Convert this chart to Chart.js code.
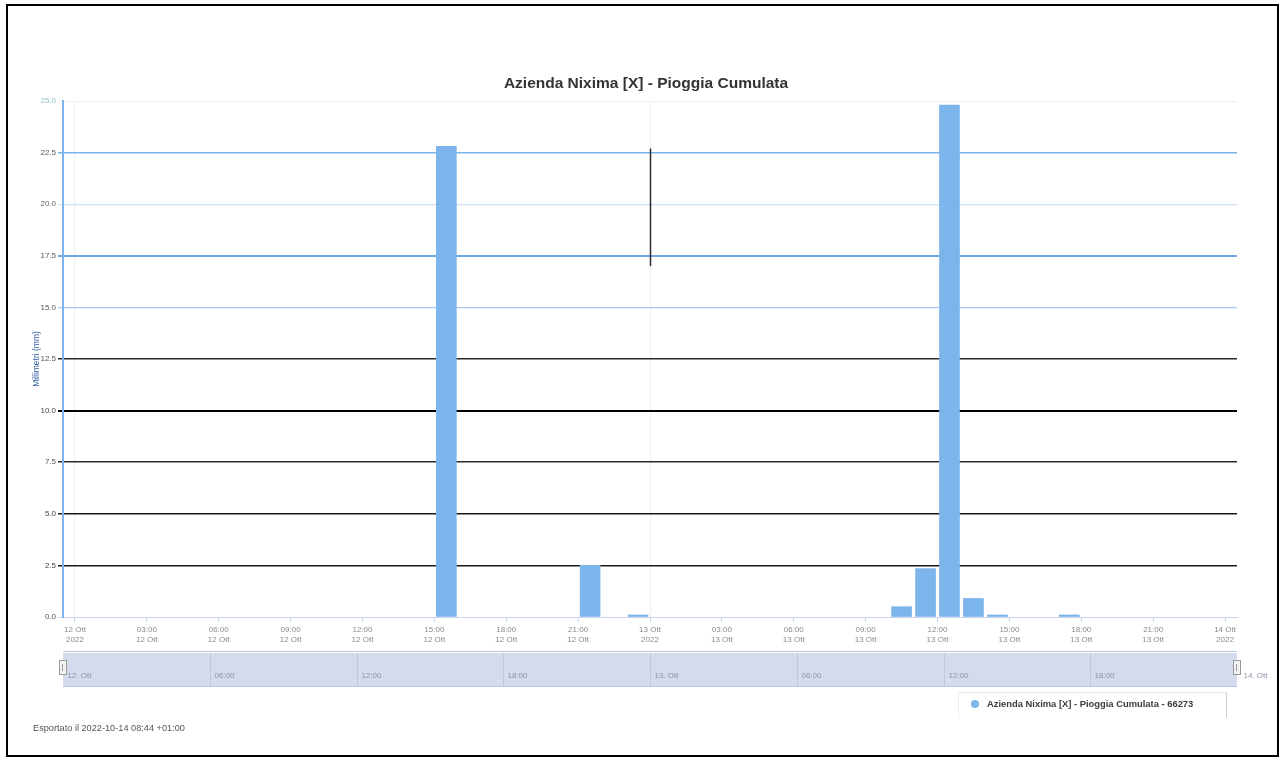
<!DOCTYPE html>
<html>
<head>
<meta charset="utf-8">
<script src="https://cdn.jsdelivr.net/npm/chart.js@4/dist/chart.umd.min.js"></script>
<style>
  html, body { margin: 0; padding: 0; background: #fff; }
  body { width: 1284px; height: 760px; position: relative; overflow: hidden; font-family: "Liberation Sans", Arial, sans-serif; }
  #frame { position: absolute; left: 6px; top: 4px; width: 1269px; height: 749px; border: 2px solid #000; }
  #wrap { position: absolute; left: 0; top: 0; width: 1284px; height: 760px; }
  #title { position: absolute; left: 446px; width: 400px; top: 74px; text-align: center; font-size: 15.5px; font-weight: bold; color: #333; white-space: nowrap; line-height: 18px; }
  #legend { position: absolute; left: 958px; top: 692px; width: 269px; height: 26px; border-top: 1px solid #e3e3e3; border-right: 1px solid #d0d0d0; border-left: 1px solid #eeeeee; box-sizing: border-box; }
  #legend .dot { position: absolute; left: 12px; top: 7px; width: 8px; height: 8px; border-radius: 50%; background: #7cb5ec; }
  #legend .txt { position: absolute; left: 28px; top: 5px; font-size: 9.4px; font-weight: bold; color: #3a3a3a; white-space: nowrap; line-height: 12px; }
  #footer { position: absolute; left: 33px; top: 722px; font-size: 9.2px; color: #555; white-space: nowrap; line-height: 12px; }
</style>
</head>
<body>
<div id="frame"></div>
<div id="wrap"><canvas id="c" width="1284" height="760"></canvas></div>
<div id="title"></div>
<div id="legend"><div class="dot"></div><div class="txt" id="legendText"></div></div>
<div id="footer"></div>
<script>
// ---- data ----
const chartTitle = 'Azienda Nixima [X] - Pioggia Cumulata';
const seriesName = 'Azienda Nixima [X] - Pioggia Cumulata - 66273';
const yAxisTitle = 'Millimetri (mm)';
const exportNote = 'Esportato il 2022-10-14 08:44 +01:00';
// hour offsets (from 12 Ott 2022 00:00) at which each hourly bar starts
const hourStarts = [15, 21, 23, 34, 35, 36, 37, 38, 41];
// cumulated rain (mm) for each of those hours
const rainMm = [22.8, 2.5, 0.1, 0.5, 2.35, 24.8, 0.9, 0.1, 0.1];
const xTickHours = [0, 3, 6, 9, 12, 15, 18, 21, 24, 27, 30, 33, 36, 39, 42, 45, 48];
const xTickTop = ['12 Ott', '03:00', '06:00', '09:00', '12:00', '15:00', '18:00', '21:00',
                  '13 Ott', '03:00', '06:00', '09:00', '12:00', '15:00', '18:00', '21:00', '14 Ott'];
const xTickBottom = ['2022', '12 Ott', '12 Ott', '12 Ott', '12 Ott', '12 Ott', '12 Ott', '12 Ott',
                     '2022', '13 Ott', '13 Ott', '13 Ott', '13 Ott', '13 Ott', '13 Ott', '13 Ott', '2022'];
const yTickValues = [0, 2.5, 5, 7.5, 10, 12.5, 15, 17.5, 20, 22.5, 25];
const navHours = [0, 6, 12, 18, 24, 30, 36, 42, 48];
const navLabels = ['12. Ott', '06:00', '12:00', '18:00', '13. Ott', '06:00', '12:00', '18:00', '14. Ott'];
// dark vertical stroke seen in the picture at 13 Ott (hour 24), from ~22.7 down to ~17.0 mm
const strokeHour = 24;
const strokeRange = [22.7, 17.0];

// ---- styles (indexed like yTickValues) ----
const yGridColors = ['#ccd6eb', '#1a1a1a', '#1a1a1a', '#2a2a2a', '#000000', '#2a2a2a', '#a9c9f0', '#6fa8e6', '#cfe0f6', '#7cb2ea', '#eeeeee'];
const yGridWidths = [1, 1.5, 1.5, 1.5, 2, 1.5, 1.2, 2, 1.2, 1.5, 1];
const yTickColors = ['#555', '#444', '#444', '#555', '#444', '#555', '#555', '#555', '#666', '#555', '#8fc0cf'];

document.getElementById('title').textContent = chartTitle;
document.getElementById('legendText').textContent = seriesName;
document.getElementById('footer').textContent = exportNote;

const barData = hourStarts.map((h, i) => ({ x: h + 0.5, y: rainMm[i] }));

const navigatorPlugin = {
  id: 'navigator',
  afterDatasetsDraw(chart) {
    const ctx = chart.ctx;
    const xs = chart.scales.x, ys = chart.scales.y;
    const x = Math.round(xs.getPixelForValue(strokeHour)) + 0.5;
    ctx.save();
    ctx.strokeStyle = '#2b2b2b';
    ctx.lineWidth = 1.5;
    ctx.beginPath();
    ctx.moveTo(x, ys.getPixelForValue(strokeRange[0]));
    ctx.lineTo(x, ys.getPixelForValue(strokeRange[1]));
    ctx.stroke();
    ctx.restore();
  },
  afterDraw(chart) {
    const ctx = chart.ctx;
    const a = chart.chartArea;
    const top = a.bottom + 36, h = 33;
    const L = a.left, W = a.right - a.left;
    ctx.save();
    ctx.fillStyle = '#d3dbec';
    ctx.fillRect(L, top, W, h);
    ctx.strokeStyle = '#b9c7e2';
    ctx.lineWidth = 1;
    ctx.beginPath();
    ctx.moveTo(L, top - 1.5); ctx.lineTo(a.right, top - 1.5);
    ctx.moveTo(L, top + h + 0.5); ctx.lineTo(a.right, top + h + 0.5);
    ctx.stroke();
    ctx.font = '8px "Liberation Sans", Arial, sans-serif';
    ctx.textBaseline = 'middle';
    ctx.textAlign = 'left';
    navHours.forEach((hr, i) => {
      const x = Math.round(L + hr / 48 * W) + 0.5;
      if (i > 0 && i < navHours.length - 1) {
        ctx.strokeStyle = '#bfc8db';
        ctx.beginPath(); ctx.moveTo(x, top); ctx.lineTo(x, top + h); ctx.stroke();
      }
      ctx.fillStyle = '#8c95a8';
      const tx = i === navHours.length - 1 ? x + 6 : x + 4;
      ctx.fillText(navLabels[i], tx, top + 23);
    });
    [L, a.right].forEach(x => {
      ctx.fillStyle = '#f2f2f2';
      ctx.strokeStyle = '#999';
      ctx.fillRect(x - 3.5, top + 7.5, 7, 14);
      ctx.strokeRect(x - 3.5, top + 7.5, 7, 14);
      ctx.beginPath();
      ctx.moveTo(x - 0.5, top + 11); ctx.lineTo(x - 0.5, top + 18);
      ctx.stroke();
    });
    ctx.restore();
  }
};

new Chart(document.getElementById('c'), {
  type: 'bar',
  data: {
    datasets: [{
      label: seriesName,
      data: barData,
      backgroundColor: '#7cb5ec',
      borderWidth: 0,
      barThickness: 20
    }]
  },
  options: {
    responsive: false,
    animation: false,
    layout: { padding: { left: 0, right: 47, top: 101, bottom: 0 } },
    plugins: {
      legend: { display: false },
      tooltip: { enabled: false },
      title: { display: false }
    },
    scales: {
      x: {
        type: 'linear',
        min: -0.5,
        max: 48.5,
        offset: false,
        afterBuildTicks(scale) { scale.ticks = xTickHours.map(v => ({ value: v })); },
        afterFit(scale) { scale.height = 143; },
        ticks: {
          autoSkip: false,
          maxRotation: 0,
          padding: 3,
          color: '#8a8a8a',
          font: { family: '"Liberation Sans", Arial, sans-serif', size: 8, lineHeight: 1.25 },
          callback(value) {
            const i = xTickHours.indexOf(value);
            return i >= 0 ? [xTickTop[i], xTickBottom[i]] : '';
          }
        },
        grid: {
          offset: false,
          drawOnChartArea: true,
          color(ctx) {
            const v = ctx.tick ? ctx.tick.value : null;
            return (v === 0 || v === 24) ? 'rgba(0,0,0,0.06)' : 'rgba(0,0,0,0)';
          },
          tickColor: '#ccd6eb',
          tickLength: 5
        },
        border: { color: '#ccd6eb', width: 1 }
      },
      y: {
        min: 0,
        max: 25,
        afterBuildTicks(scale) { scale.ticks = yTickValues.map(v => ({ value: v })); },
        afterFit(scale) { scale.width = 63; },
        ticks: {
          padding: 2,
          color(ctx) { return yTickColors[ctx.index] || '#555'; },
          font: { family: '"Liberation Sans", Arial, sans-serif', size: 8 },
          callback(value) { return Number(value).toFixed(1); }
        },
        grid: {
          color(ctx) { return yGridColors[ctx.index] || '#ddd'; },
          lineWidth(ctx) { return yGridWidths[ctx.index] || 1; },
          tickLength: 5
        },
        border: { color: '#7cb5ec', width: 2 },
        title: {
          display: true,
          text: yAxisTitle,
          color: '#2f5d9c',
          font: { family: '"Liberation Sans", Arial, sans-serif', size: 8.5 },
          padding: { top: 32, bottom: 0 }
        }
      }
    }
  },
  plugins: [navigatorPlugin]
});
</script>
</body>
</html>
